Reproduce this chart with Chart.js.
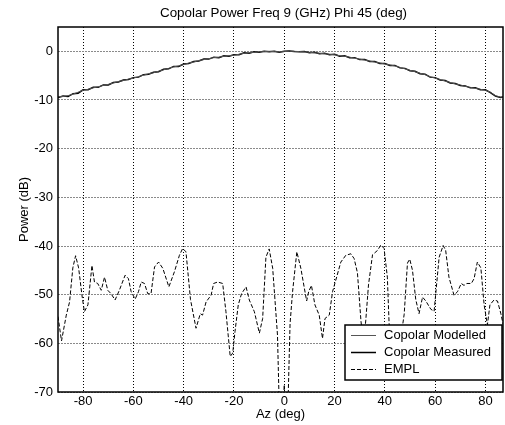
<!DOCTYPE html>
<html>
<head>
<meta charset="utf-8">
<script src="https://cdn.jsdelivr.net/npm/chart.js@4/dist/chart.umd.min.js"></script>
<style>
html,body{margin:0;padding:0;background:#fff;}
#wrap{width:505px;height:425px;}
</style>
</head>
<body>
<div id="wrap"><canvas id="c" width="505" height="425"></canvas></div>
<script>
const chartTitle = 'Copolar Power Freq 9 (GHz) Phi 45 (deg)';
const xTitle = 'Az (deg)';
const yTitle = 'Power (dB)';
const seriesNames = ['Copolar Modelled', 'Copolar Measured', 'EMPL'];
const xTicks = [-80, -60, -40, -20, 0, 20, 40, 60, 80];
const yTicks = [-70, -60, -50, -40, -30, -20, -10, 0];

const coAz = [-90,-88,-86,-84,-82,-80,-78,-76,-74,-72,-70,-68,-66,-64,-62,-60,-58,-56,-54,-52,-50,-48,-46,-44,-42,-40,-38,-36,-34,-32,-30,-28,-26,-24,-22,-20,-18,-16,-14,-12,-10,-8,-6,-4,-2,0,2,4,6,8,10,12,14,16,18,20,22,24,26,28,30,32,34,36,38,40,42,44,46,48,50,52,54,56,58,60,62,64,66,68,70,72,74,76,78,80,82,84,86,87];
const modelled = [-9.3,-9.3,-9.1,-8.8,-8.4,-8.0,-7.8,-7.5,-7.3,-7.0,-6.8,-6.5,-6.2,-6.0,-5.7,-5.5,-5.2,-4.9,-4.6,-4.4,-4.1,-3.8,-3.5,-3.2,-3.0,-2.7,-2.4,-2.2,-1.9,-1.7,-1.5,-1.3,-1.2,-1.0,-0.9,-0.8,-0.6,-0.4,-0.3,-0.2,-0.1,-0.05,0,-0.05,-0.1,-0.05,0,0,-0.05,-0.1,-0.2,-0.3,-0.4,-0.5,-0.6,-0.7,-0.9,-1.0,-1.2,-1.4,-1.6,-1.8,-2.0,-2.2,-2.4,-2.6,-2.8,-3.0,-3.3,-3.6,-3.9,-4.2,-4.5,-4.8,-5.2,-5.5,-5.8,-6.1,-6.4,-6.7,-6.9,-7.2,-7.4,-7.6,-7.8,-8.0,-8.4,-9.1,-9.4,-9.4];
const measured = [-9.5,-9.2,-9.3,-8.7,-8.6,-7.9,-7.9,-7.4,-7.4,-6.9,-6.9,-6.4,-6.3,-5.9,-5.8,-5.4,-5.3,-4.8,-4.7,-4.3,-4.2,-3.7,-3.6,-3.1,-3.1,-2.6,-2.5,-2.1,-2.0,-1.6,-1.6,-1.2,-1.3,-0.9,-1.0,-0.7,-0.7,-0.3,-0.4,-0.1,-0.2,0,-0.1,0,-0.2,0,0.05,-0.05,-0.1,-0.05,-0.3,-0.2,-0.5,-0.4,-0.7,-0.6,-1.0,-0.9,-1.3,-1.3,-1.7,-1.7,-2.1,-2.1,-2.5,-2.5,-2.9,-2.9,-3.4,-3.5,-4.0,-4.1,-4.6,-4.7,-5.3,-5.4,-5.9,-6.0,-6.5,-6.6,-7.0,-7.1,-7.5,-7.5,-7.9,-7.9,-8.5,-9.2,-9.5,-9.4];

const emplAz = [-90,-88.6,-86.7,-85.4,-84.1,-83.0,-81.8,-80.5,-79.5,-78.1,-76.5,-75.5,-74.2,-72.8,-71.5,-70.2,-68.9,-67.3,-65.6,-63.3,-62.0,-60.9,-59.3,-58.0,-56.9,-55.6,-54.3,-53.0,-51.6,-50.0,-48.3,-45.9,-43.7,-41.7,-40.4,-39.1,-37.3,-35.1,-33.4,-32.5,-31.1,-29.1,-28.1,-26.5,-24.5,-23.2,-21.5,-20.5,-19.6,-18.3,-17.0,-15.2,-13.9,-11.9,-9.9,-8.6,-7.3,-6.0,-4.6,-2.7,-1.9,-1.0,-0.4,0.0,0.4,1.0,1.6,2.3,3.3,5.0,6.6,8.0,8.9,9.7,10.8,12.2,13.9,15.2,16.2,17.9,19.2,20.5,22.5,24.5,26.5,27.8,29.1,29.8,30.5,31.5,32.4,33.5,35.1,37.1,38.4,39.7,41.0,41.7,43.5,45.5,47.7,49.0,49.9,51.0,52.3,53.6,55.0,56.3,58.3,59.6,61.6,63.2,64.2,65.5,67.5,68.9,70.4,71.5,72.6,74.4,75.5,76.8,78.2,79.5,80.8,81.8,83.4,84.8,86.1,87.0];
const emplDb = [-54.5,-59.5,-54.2,-51.5,-44.5,-42.0,-44.5,-50.0,-53.5,-52.1,-44.0,-47.4,-47.7,-49.1,-46.4,-49.1,-49.8,-51.1,-49.1,-46.0,-46.7,-49.4,-50.9,-49.4,-47.4,-47.7,-49.8,-49.8,-44.3,-43.3,-44.6,-48.4,-45.3,-41.9,-40.5,-41.2,-51.0,-56.9,-53.9,-54.2,-51.5,-50.1,-47.7,-47.4,-47.7,-53.5,-62.7,-62.0,-57.6,-52.1,-49.8,-48.4,-51.1,-53.5,-57.9,-54.9,-42.3,-40.6,-44.6,-58.3,-75,-82,-72,-68.5,-72,-80,-70,-56,-49.4,-41.2,-44.6,-48.7,-51.3,-49.4,-48.1,-52.1,-54.2,-59.0,-54.9,-54.2,-49.4,-47.0,-43.3,-41.9,-41.6,-42.6,-45.5,-50.4,-55.4,-60.0,-55.4,-48.0,-41.8,-40.9,-39.8,-40.5,-46.4,-56.0,-63.0,-62.0,-54.0,-43.5,-42.7,-45.0,-51.0,-53.9,-50.5,-51.3,-53.0,-53.4,-42.3,-39.9,-40.9,-46.4,-50.1,-49.4,-47.7,-48.1,-47.7,-47.7,-46.7,-43.3,-44.5,-52.1,-56.2,-52.1,-51.1,-51.3,-53.8,-56.0];

const FONT = "'Liberation Sans', Arial, sans-serif";
const pts = (xs, ys) => xs.map((x, i) => ({x: x, y: ys[i]}));

const frameAndLegend = {
  id: 'frameAndLegend',
  afterDatasetsDraw(chart) {
    const ctx = chart.ctx;
    const a = chart.chartArea;
    ctx.save();
    // title centred over the plot area
    ctx.fillStyle = '#000';
    ctx.font = '13.4px ' + FONT;
    ctx.textAlign = 'center';
    ctx.textBaseline = 'middle';
    ctx.fillText(chartTitle, (a.left + a.right) / 2 + 3, 13);
    // frame
    ctx.strokeStyle = '#000';
    ctx.lineWidth = 1.5;
    ctx.setLineDash([]);
    ctx.strokeRect(a.left, a.top, a.right - a.left, a.bottom - a.top);
    // legend box
    const bx = 345, by = 325, bw = a.right - 1 - bx, bh = 55;
    ctx.fillStyle = '#fff';
    ctx.fillRect(bx, by, bw, bh);
    ctx.lineWidth = 1.5;
    ctx.strokeRect(bx, by, bw, bh);
    const ds = chart.data.datasets;
    ctx.font = '13px ' + FONT;
    ctx.textBaseline = 'middle';
    ctx.textAlign = 'left';
    ds.forEach((d, i) => {
      const y = by + 10.5 + i * 17;
      ctx.beginPath();
      ctx.strokeStyle = d.borderColor;
      ctx.lineWidth = d.borderWidth;
      ctx.setLineDash(d.borderDash || []);
      ctx.moveTo(351, y);
      ctx.lineTo(376, y);
      ctx.stroke();
      ctx.fillStyle = '#000';
      ctx.fillText(d.label, 384, y);
    });
    ctx.restore();
  }
};

new Chart(document.getElementById('c'), {
  type: 'line',
  data: {
    datasets: [
      {label: seriesNames[0], data: pts(coAz, modelled), borderColor: '#555', borderWidth: 1, pointRadius: 0, tension: 0},
      {label: seriesNames[1], data: pts(coAz, measured), borderColor: '#000', borderWidth: 1.5, pointRadius: 0, tension: 0},
      {label: seriesNames[2], data: pts(emplAz, emplDb), borderColor: '#000', borderWidth: 1, borderDash: [4, 2], pointRadius: 0, tension: 0}
    ]
  },
  options: {
    responsive: false,
    animation: false,
    events: [],
    layout: {padding: {left: 0, right: 2, top: 27, bottom: 0}},
    plugins: {
      legend: {display: false},
      tooltip: {enabled: false},
      title: {display: false}
    },
    scales: {
      x: {
        type: 'linear', min: -90, max: 87,
        afterBuildTicks: s => { s.ticks = xTicks.map(v => ({value: v})); },
        afterFit: s => { s.height = 33; },
        ticks: {color: '#000', font: {family: FONT, size: 13}, padding: 2, maxRotation: 0},
        grid: {color: '#000', lineWidth: 1, drawTicks: false},
        border: {display: false, dash: [1, 2]},
        title: {display: true, text: xTitle, color: '#000', font: {family: FONT, size: 13}, padding: {top: 0, bottom: 3}}
      },
      y: {
        type: 'linear', min: -70, max: 5,
        afterBuildTicks: s => { s.ticks = yTicks.map(v => ({value: v})); },
        afterFit: s => { s.width = 58; },
        ticks: {color: '#000', font: {family: FONT, size: 13}, padding: 5},
        grid: {color: '#8a8a8a', lineWidth: 1, drawTicks: false},
        border: {display: false, dash: [2, 1]},
        title: {display: true, text: yTitle, color: '#000', font: {family: FONT, size: 13}, padding: {top: 17, bottom: 0}}
      }
    }
  },
  plugins: [frameAndLegend]
});
</script>
</body>
</html>
